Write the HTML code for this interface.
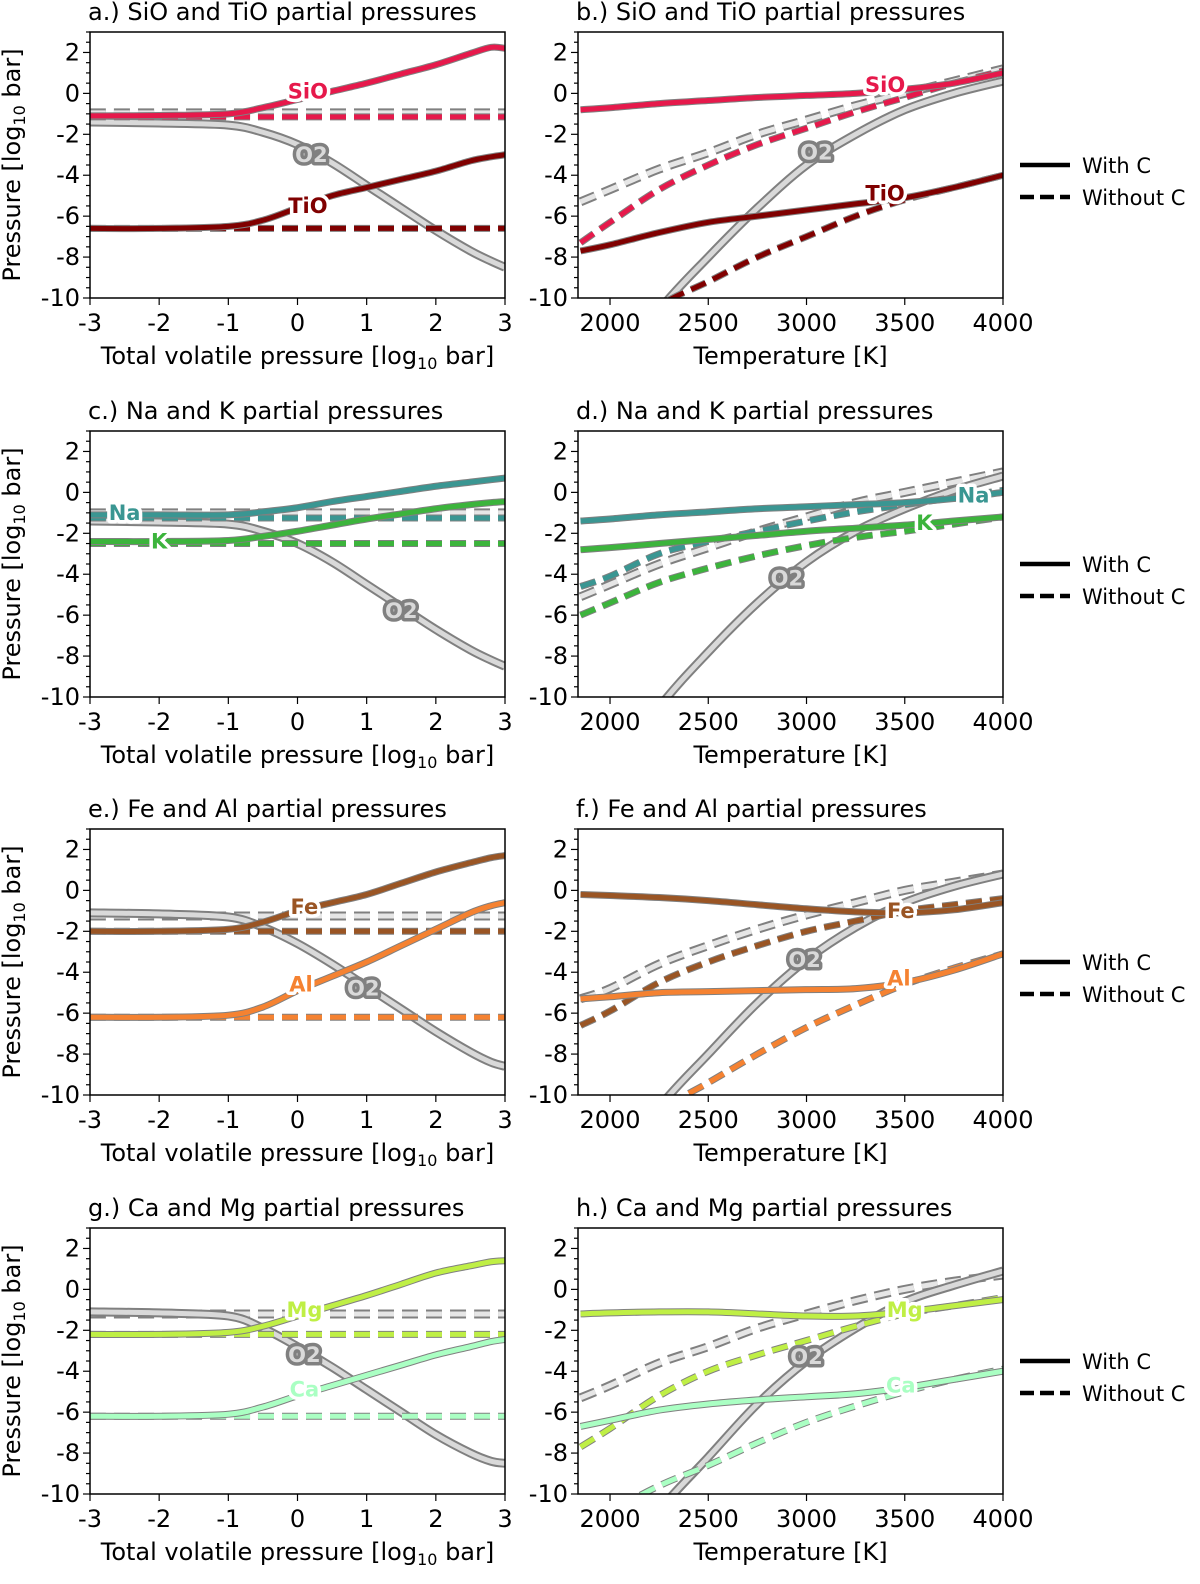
<!DOCTYPE html>
<html><head><meta charset="utf-8"><style>
body{margin:0;background:#fff;}
svg{display:block;font-family:"DejaVu Sans","Liberation Sans",sans-serif;}
</style></head><body>
<svg id="chart" width="1200" height="1584" viewBox="0 0 1200 1584"></svg>
<script>
// ---------- data ----------
const titles = ["a.) SiO and TiO partial pressures","b.) SiO and TiO partial pressures","c.) Na and K partial pressures","d.) Na and K partial pressures","e.) Fe and Al partial pressures","f.) Fe and Al partial pressures","g.) Ca and Mg partial pressures","h.) Ca and Mg partial pressures"];
const yTicks = [2,0,-2,-4,-6,-8,-10];
const xTicksP = [-3,-2,-1,0,1,2,3];
const xTicksT = [2000,2500,3000,3500,4000];
const pX = [-3,-2,-1,-0.5,0,0.5,1,1.5,2,2.5,2.8,3];
const tX = [1850,2000,2250,2500,2750,3000,3250,3500,3750,4000];
const colors = {SiO:"#e6194b",TiO:"#800000",Na:"#3a9692",K:"#3cb43c",Fe:"#9a5524",Al:"#f58231",Mg:"#bfef45",Ca:"#aaffc3",O2:"#d9d9d9"};
// panel a
const aO2 = [-1.4,-1.45,-1.55,-1.9,-2.5,-3.4,-4.5,-5.6,-6.7,-7.7,-8.2,-8.5];
const aSiO = [-1.1,-1.08,-1.0,-0.7,-0.3,0.1,0.5,0.95,1.4,1.95,2.25,2.2];
const aTiO = [-6.6,-6.6,-6.5,-6.2,-5.6,-5.0,-4.6,-4.2,-3.8,-3.3,-3.1,-3.0];
// panel b
const bO2 = [-16,-14,-10.6,-8.0,-5.6,-3.5,-2.0,-0.8,0.0,0.6];
const bO2d = [-5.3,-4.7,-3.7,-2.9,-2.0,-1.3,-0.6,0.0,0.6,1.2];
const bSiO = [-0.8,-0.7,-0.5,-0.35,-0.2,-0.1,0.0,0.2,0.5,1.0];
const bSiOd = [-7.3,-6.3,-4.7,-3.5,-2.5,-1.7,-0.9,-0.2,0.5,1.1];
const bTiO = [-7.7,-7.4,-6.8,-6.3,-6.0,-5.7,-5.4,-5.1,-4.6,-4.0];
const bTiOd = [-14,-12.5,-10.4,-9.2,-8.0,-7.0,-6.0,-5.2,-4.6,-4.0];
// panel c
const cO2 = aO2;
const cNa = [-1.1,-1.1,-1.1,-0.95,-0.75,-0.45,-0.2,0.05,0.3,0.5,0.62,0.7];
const cK = [-2.4,-2.4,-2.35,-2.15,-1.9,-1.6,-1.3,-1.05,-0.8,-0.6,-0.5,-0.45];
// panel d
const dO2 = [-16,-14,-10.5,-7.8,-5.4,-3.4,-1.9,-0.8,0.1,0.8];
const dO2d = [-5.1,-4.5,-3.5,-2.7,-1.9,-1.2,-0.5,0.0,0.5,1.0];
const dNa = [-1.4,-1.3,-1.1,-0.95,-0.8,-0.7,-0.6,-0.5,-0.3,0.0];
const dNad = [-4.6,-4.1,-3.0,-2.4,-1.9,-1.4,-0.95,-0.6,-0.25,0.1];
const dK = [-2.8,-2.7,-2.5,-2.3,-2.1,-1.9,-1.75,-1.6,-1.4,-1.2];
const dKd = [-6.0,-5.4,-4.4,-3.7,-3.1,-2.6,-2.2,-1.9,-1.55,-1.2];
// panel e
const eO2 = [-1.1,-1.15,-1.3,-1.8,-2.6,-3.6,-4.7,-5.8,-6.9,-7.9,-8.4,-8.6];
const eFe = [-2.0,-2.0,-1.9,-1.55,-1.0,-0.6,-0.2,0.35,0.9,1.35,1.6,1.7];
const eAl = [-6.2,-6.2,-6.1,-5.7,-4.9,-4.2,-3.5,-2.7,-1.9,-1.1,-0.75,-0.6];
// panel f
const fO2 = [-16,-14,-10.6,-8.0,-5.5,-3.4,-1.8,-0.6,0.2,0.8];
const fO2d = [-5.3,-4.8,-3.6,-2.7,-1.9,-1.2,-0.6,0.0,0.4,0.8];
const fFe = [-0.2,-0.25,-0.35,-0.5,-0.7,-0.9,-1.05,-1.1,-0.95,-0.6];
const fFed = [-6.6,-5.9,-4.5,-3.5,-2.7,-2.0,-1.5,-1.0,-0.7,-0.4];
const fAl = [-5.3,-5.2,-5.0,-4.95,-4.9,-4.85,-4.8,-4.5,-3.9,-3.1];
const fAld = [-14.5,-13,-10.8,-9.4,-8.0,-6.7,-5.6,-4.6,-3.8,-3.1];
// panel g
const gO2 = [-1.1,-1.15,-1.3,-1.9,-2.8,-3.8,-4.9,-6.0,-7.1,-8.0,-8.4,-8.5];
const gMg = [-2.2,-2.2,-2.1,-1.8,-1.3,-0.8,-0.3,0.25,0.8,1.15,1.35,1.4];
const gCa = [-6.2,-6.2,-6.1,-5.75,-5.2,-4.7,-4.2,-3.7,-3.2,-2.8,-2.55,-2.45];
// panel h
const hO2 = [-16,-14,-10.8,-8.2,-5.6,-3.5,-1.9,-0.6,0.2,0.9];
const hO2d = [-5.3,-4.7,-3.6,-2.8,-1.9,-1.2,-0.55,0.0,0.4,0.7];
const hMg = [-1.2,-1.15,-1.1,-1.1,-1.2,-1.3,-1.3,-1.1,-0.8,-0.5];
const hMgd = [-7.7,-6.8,-5.2,-4.0,-3.2,-2.5,-1.8,-1.2,-0.8,-0.4];
const hCa = [-6.7,-6.4,-5.9,-5.6,-5.4,-5.25,-5.1,-4.8,-4.4,-4.0];
const hCad = [-12,-10.9,-9.6,-8.6,-7.5,-6.5,-5.7,-5.0,-4.4,-3.9];

// ---------- drawing ----------
const NS="http://www.w3.org/2000/svg";
const svg=document.getElementById('chart');
function mk(tag,attrs,parent){const e=document.createElementNS(NS,tag);for(const k in attrs)e.setAttribute(k,attrs[k]);(parent||svg).appendChild(e);return e;}
const rowTops=[32,431,829,1228], H=266;
const cols=[{x0:90,x1:505,d0:-3,d1:3},{x0:578,x1:1003,d0:1837,d1:4000}];
const FS=24;
function pathD(xs,ys,sx,sy){
  const pts=[];xs.forEach((x,i)=>{if(ys[i]!==null)pts.push([sx(x),sy(ys[i])]);});
  let d="M"+pts[0][0]+","+pts[0][1];
  for(let i=0;i<pts.length-1;i++){
    const p0=pts[Math.max(0,i-1)],p1=pts[i],p2=pts[i+1],p3=pts[Math.min(pts.length-1,i+2)];
    const c1=[p1[0]+(p2[0]-p0[0])/6,p1[1]+(p2[1]-p0[1])/6],c2=[p2[0]-(p3[0]-p1[0])/6,p2[1]-(p3[1]-p1[1])/6];
    d+=" C"+c1+" "+c2+" "+p2;
  }
  return d;
}
const panels=[
 {series:[["O2",pX,-0.95,true],["O2",pX,aO2,false],["SiO",pX,-1.15,true],["SiO",pX,aSiO,false],["TiO",pX,-6.6,true],["TiO",pX,aTiO,false]],
  labels:[["SiO",0.15,0.1],["O2",0.2,-3.0],["TiO",0.15,-5.5]]},
 {series:[["O2",tX,bO2d,true],["O2",tX,bO2,false],["SiO",tX,bSiOd,true],["SiO",tX,bSiO,false],["TiO",tX,bTiOd,true],["TiO",tX,bTiO,false]],
  labels:[["SiO",3400,0.4],["O2",3050,-2.9],["TiO",3400,-4.9]]},
 {series:[["O2",pX,-1.0,true],["O2",pX,cO2,false],["Na",pX,-1.25,true],["Na",pX,cNa,false],["K",pX,-2.5,true],["K",pX,cK,false]],
  labels:[["Na",-2.5,-1.0],["K",-2.0,-2.4],["O2",1.5,-5.8]]},
 {series:[["O2",tX,dO2d,true],["O2",tX,dO2,false],["Na",tX,dNad,true],["Na",tX,dNa,false],["K",tX,dKd,true],["K",tX,dK,false]],
  labels:[["Na",3850,-0.15],["K",3600,-1.5],["O2",2900,-4.2]]},
 {series:[["O2",pX,-1.25,true],["O2",pX,eO2,false],["Fe",pX,-2.0,true],["Fe",pX,eFe,false],["Al",pX,-6.2,true],["Al",pX,eAl,false]],
  labels:[["Fe",0.1,-0.8],["Al",0.05,-4.6],["O2",0.95,-4.8]]},
 {series:[["O2",tX,fO2d,true],["O2",tX,fO2,false],["Fe",tX,fFed,true],["Fe",tX,fFe,false],["Al",tX,fAld,true],["Al",tX,fAl,false]],
  labels:[["Fe",3480,-1.0],["O2",2990,-3.4],["Al",3470,-4.3]]},
 {series:[["O2",pX,-1.2,true],["O2",pX,gO2,false],["Mg",pX,-2.2,true],["Mg",pX,gMg,false],["Ca",pX,-6.2,true],["Ca",pX,gCa,false]],
  labels:[["Mg",0.1,-1.0],["O2",0.1,-3.2],["Ca",0.1,-4.9]]},
 {series:[["O2",tX,hO2d,true],["O2",tX,hO2,false],["Mg",tX,hMgd,true],["Mg",tX,hMg,false],["Ca",tX,hCad,true],["Ca",tX,hCa,false]],
  labels:[["Mg",3500,-1.0],["O2",3000,-3.3],["Ca",3480,-4.7]]}
];
panels.forEach((p,i)=>{
  const r=Math.floor(i/2),c=i%2,col=cols[c],top=rowTops[r],bot=top+H;
  const sx=v=>col.x0+(v-col.d0)/(col.d1-col.d0)*(col.x1-col.x0);
  const sy=v=>top+(3-v)/13*H;
  const g=mk('g',{});
  
  
  const t=mk('text',{x:col.x0-2,y:top-12,'font-size':FS,fill:'#000'},g);t.textContent=titles[i];
  
  const cp=mk('clipPath',{id:'cp'+i},g);mk('rect',{x:col.x0,y:top,width:col.x1-col.x0,height:H},cp);
  const lg=mk('g',{'clip-path':'url(#cp'+i+')'},g);
  p.series.forEach(s=>{
    const [name,xs,ysRaw,dashed]=s;
    const ys=Array.isArray(ysRaw)?ysRaw:xs.map(()=>ysRaw);
    const d=pathD(xs,ys,sx,sy);
    const isO2=name==='O2';
    const wO=isO2?9:7, wI=5;
    const da=dashed?'16,8':'none';
    const o=mk('path',{d:d,fill:'none',stroke:'#808080','stroke-width':wO,'stroke-dasharray':da},lg);
    
    
    const l=mk('path',{d:d,fill:'none',stroke:(isO2&&dashed)?'#e6e6e6':colors[name],'stroke-width':wI,'stroke-dasharray':da},lg);
    
    
  });
  p.labels.forEach(lb=>{
    const isO2=lb[0]==='O2';
    const e=mk('text',{x:sx(lb[1]),y:sy(lb[2])+7,'text-anchor':'middle','font-size':21,'font-weight':'bold',fill:isO2?'#d9d9d9':colors[lb[0]],stroke:isO2?'#808080':'#fff','stroke-width':7,'stroke-linejoin':'round','paint-order':'stroke'},g);
    e.textContent=lb[0];
    
    
  });
  const fr=mk('rect',{x:col.x0,y:top,width:col.x1-col.x0,height:H,fill:'none',stroke:'#000','stroke-width':1.5},g);
  
  for(let v=-10;v<=3;v+=0.5){const y=sy(v),maj=(v%2===0);mk('line',{x1:col.x0,x2:col.x0-(maj?7:4),y1:y,y2:y,stroke:'#000','stroke-width':1.2},g);}
  yTicks.forEach(v=>{const e=mk('text',{x:col.x0-10,y:sy(v)+8,'text-anchor':'end','font-size':FS},g);e.textContent=v;
    });
  const xt=c===0?xTicksP:xTicksT;
  xt.forEach(v=>{const x=sx(v);mk('line',{x1:x,x2:x,y1:bot,y2:bot+7,stroke:'#000','stroke-width':1.2},g);
    const e=mk('text',{x:x,y:bot+33,'text-anchor':'middle','font-size':FS},g);e.textContent=v;
    });
  const xl=mk('text',{x:(col.x0+col.x1)/2,y:bot+66,'text-anchor':'middle','font-size':FS},g);
  if(c===0){xl.innerHTML='Total volatile pressure [log<tspan font-size="16" dy="5">10</tspan><tspan dy="-5"> bar]</tspan>';}
  else xl.textContent='Temperature [K]';
  
  if(c===0){
    const yl=mk('text',{transform:'translate(20,'+(top+H/2)+') rotate(-90)','text-anchor':'middle','font-size':FS},g);
    yl.innerHTML='Pressure [log<tspan font-size="16" dy="5">10</tspan><tspan dy="-5"> bar]</tspan>';
    
  } else {
    const lgG=mk('g',{},g);
    
    const ly=top+133;
    mk('line',{x1:1020,x2:1070,y1:ly,y2:ly,stroke:'#000','stroke-width':4.5},lgG);
    const t1=mk('text',{x:1082,y:ly+8,'font-size':21},lgG);t1.textContent='With C';
    
    mk('line',{x1:1020,x2:1070,y1:ly+32,y2:ly+32,stroke:'#000','stroke-width':4.5,'stroke-dasharray':'14,6'},lgG);
    const t2=mk('text',{x:1082,y:ly+40,'font-size':21},lgG);t2.textContent='Without C';
    
  }
});
</script>
</body></html>
